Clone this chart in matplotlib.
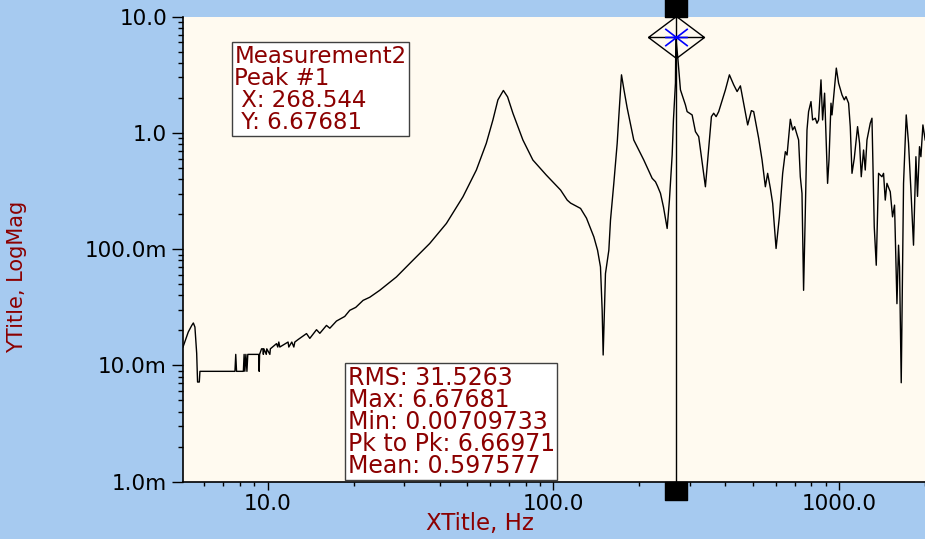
import matplotlib
matplotlib.use("Agg")
from matplotlib import pyplot as plt
from matplotlib import transforms
from matplotlib.path import Path
from matplotlib.ticker import NullFormatter

# spectrum (Hz, linear magnitude)
freq_hz = [
    5.06, 5.28, 5.43, 5.50, 5.57, 5.65, 5.69, 5.77, 5.80,
    7.69, 7.74, 7.79, 8.23, 8.28, 8.33, 8.40, 8.47, 8.53, 9.32, 9.35, 9.38, 9.53,
    9.63, 9.67, 9.71, 9.90, 9.94, 10.19, 10.23, 10.75, 10.86, 10.95, 11.04,
    11.80, 11.87, 12.16, 12.36, 12.46, 12.79, 13.69, 14.06, 14.84, 15.24, 16.08, 16.52, 17.43,
    18.63, 19.40, 20.36, 21.60, 22.79, 24.70, 28.25, 32.29, 36.94, 42.26, 48.30, 53.81,
    58.30, 61.49, 64.01, 66.9, 69.21, 72.24, 78.29, 84.84, 94.52,
    106.1, 111.9, 115.0, 124.6, 130.7, 138.7, 142.9, 146.3, 148.3, 149.5, 152.3, 156.5,
    158.6, 162.9, 167.4, 169.6, 173.3, 176.8, 181.4, 191.3, 207.4, 221.9, 227.9, 231.6,
    237.3, 243.1, 250.4, 255.0, 260.7, 263.4, 267.7, 268.544,
    273.2, 278.7, 290.1, 294.1, 306.2, 314.5, 322.9, 340.8, 357.7, 364.3, 371.5, 379.3,
    400.4, 413.5, 428.1, 440.0, 451.8, 463.9, 479.1, 493.6, 502.9, 523.5, 538.0, 552.5,
    562.8, 575.2, 586.0, 602.3, 618.5, 635.2, 649.0, 658.0, 675.6, 688.3, 699.4, 722.2,
    732.2, 742.2, 751.8, 762.1, 772.7, 782.7, 798.0, 808.4, 826.1, 837.5, 848.4, 865.0,
    876.3, 890.5, 912.2, 922.6, 937.6, 945.2, 978.6, 996.8,
    1024.5, 1043.5, 1058.0, 1080.4, 1095.2, 1110.5, 1131.1, 1161.5, 1180.4, 1196.6,
    1219.0, 1235.7, 1252.9, 1286.5, 1304.4, 1328.7, 1350.3, 1375.7, 1413.6, 1432.0,
    1451.9, 1471.8, 1511.6, 1539.7, 1564.7, 1595.3, 1615.9, 1629.0, 1651.3, 1682.4,
    1719.2, 1751.5, 1785.3, 1823.1, 1858.7, 1882.8, 1913.4, 1935.1, 1966.5, 2003.0,
]
mag = [
    0.0144, 0.0194, 0.0221, 0.0232, 0.0214, 0.0127, 0.0072, 0.0072, 0.0089,
    0.0089, 0.01245, 0.0089, 0.0089, 0.01245, 0.0089, 0.01245, 0.0089, 0.01245, 0.01245, 0.0089, 0.01245, 0.0139,
    0.0139, 0.01245, 0.0139, 0.01245, 0.0139, 0.01245, 0.0139, 0.0154, 0.0144, 0.0159, 0.0144,
    0.0159, 0.0144, 0.0159, 0.0144, 0.0159, 0.0167, 0.0188, 0.0171, 0.0203, 0.0189, 0.0221, 0.0209, 0.0241,
    0.0264, 0.0298, 0.0316, 0.0363, 0.0386, 0.0443, 0.0577, 0.0804, 0.1119, 0.1665, 0.2824, 0.4798,
    0.8151, 1.294, 1.925, 2.32, 2.043, 1.478, 0.8703, 0.5852, 0.4344,
    0.3226, 0.2645, 0.2492, 0.2243, 0.1850, 0.1276, 0.098, 0.0704, 0.0298, 0.0123, 0.0617, 0.098,
    0.1778, 0.3685, 0.8151, 1.382, 3.162, 2.348, 1.643, 0.870, 0.5852, 0.4070, 0.3803, 0.3493,
    0.3021, 0.2302, 0.1508, 0.2645, 0.646, 1.294, 2.682, 6.67681,
    4.259, 2.348, 1.743, 1.526, 1.429, 1.026, 0.929, 0.3444, 1.382, 1.478, 1.382, 1.526,
    2.348, 3.162, 2.593, 2.270, 2.542, 1.803, 1.172, 1.556, 1.526, 0.900, 0.5852, 0.3444,
    0.4494, 0.3337, 0.2477, 0.1014, 0.1898, 0.4494, 0.690, 0.646, 1.312, 1.061, 1.133, 0.870,
    0.4201, 0.3021, 0.0443, 0.2032, 1.061, 1.526, 1.861, 1.294, 1.339, 1.212, 1.294, 2.863,
    1.294, 2.199, 0.3685, 0.5852, 1.803, 1.429, 3.613, 2.682,
    2.126, 1.925, 2.055, 1.803, 1.133, 0.4494, 0.6051, 1.133, 0.815, 0.4201,
    0.7135, 0.4798, 0.870, 1.212, 1.339, 0.1557, 0.0728, 0.4494, 0.4201, 0.4494,
    0.2645, 0.3685, 0.3119, 0.1898, 0.2394, 0.0340, 0.1083, 0.0704, 0.0071, 0.3685,
    1.429, 0.815, 0.3226, 0.1083, 0.6247, 0.2847, 0.7619, 0.6247, 1.172, 0.870,
]

peak_hz = 268.544
peak_mag = 6.67681
stat_names = ["RMS", "Max", "Min", "Pk to Pk", "Mean"]
stat_values = ["31.5263", "6.67681", "0.00709733", "6.66971", "0.597577"]

xtick_vals = [10, 100, 1000]
xtick_labels = ["10.0", "100.0", "1000.0"]
ytick_vals = [1e-3, 1e-2, 1e-1, 1, 10]
ytick_labels = ["1.0m", "10.0m", "100.0m", "1.0", "10.0"]

plt.rcParams['font.family'] = ['DejaVu Sans']

blue = '#a6caf0'
cream = '#fffaf0'
maroon = '#8b0000'

fig = plt.figure(figsize=(9.25, 5.39), dpi=100, facecolor=blue)
ax = fig.add_axes([183/925, 57.3/539, 742/925, 465/539])
ax.set_facecolor(cream)
ax.set_xscale('log')
ax.set_yscale('log')
ax.set_xlim(5.06, 2000)
ax.set_ylim(1e-3, 10)

ax.plot(freq_hz, mag, color='black', lw=1)
ax.axvline(peak_hz, color='black', lw=1, zorder=3)

for s in ['top', 'right']:
    ax.spines[s].set_visible(False)
for s in ['left', 'bottom']:
    ax.spines[s].set_color('black')
    ax.spines[s].set_linewidth(1.2)

ax.set_xticks(xtick_vals, xtick_labels)
ax.set_yticks(ytick_vals, ytick_labels)
ax.xaxis.set_minor_formatter(NullFormatter())
ax.yaxis.set_minor_formatter(NullFormatter())
ax.tick_params(axis='both', which='both', direction='out', colors='black', width=1)
ax.tick_params(axis='x', which='major', length=6, pad=3, labelsize=15.5)
ax.tick_params(axis='x', which='minor', length=3)
ax.tick_params(axis='y', which='major', length=8, pad=3.5, labelsize=15.5)
ax.tick_params(axis='y', which='minor', length=3.6)

# peak cursor: diamond with star, plus black tabs on the frame
diamond = Path([(-28, 0), (0, 21), (28, 0), (0, -21), (-28, 0), (-28, 0), (28, 0)],
               [Path.MOVETO, Path.LINETO, Path.LINETO, Path.LINETO, Path.LINETO,
                Path.MOVETO, Path.LINETO])
star = Path([(-34, 0), (34, 0), (-34, -26), (34, 26), (-34, 26), (34, -26)],
            [Path.MOVETO, Path.LINETO] * 3)
tab = Path([(-11, -9), (11, -9), (11, 9), (-11, 9), (-11, -9)],
           [Path.MOVETO, Path.LINETO, Path.LINETO, Path.LINETO, Path.CLOSEPOLY])

ax.plot([peak_hz], [peak_mag], marker=diamond, ms=40.3, mfc='none', mec='black',
        mew=1, clip_on=False, zorder=4)
ax.plot([peak_hz], [peak_mag], marker=star, ms=16.3, mfc='none', mec='#0000ff',
        mew=1.2, clip_on=False, zorder=5)

trans = transforms.blended_transform_factory(ax.transData, ax.transAxes)
top_tab = transforms.offset_copy(trans, fig=fig, y=9, units='dots')
bot_tab = transforms.offset_copy(trans, fig=fig, y=-9, units='dots')
ax.plot([peak_hz], [1], marker=tab, ms=15.8, color='black', transform=top_tab,
        clip_on=False, zorder=6)
ax.plot([peak_hz], [0], marker=tab, ms=15.8, color='black', transform=bot_tab,
        clip_on=False, zorder=6)

peak_text = f"Measurement2\nPeak #1\n X: {peak_hz}\n Y: {peak_mag}"
ax.text(0.0692, 0.940, peak_text, transform=ax.transAxes, ha='left', va='top',
        fontsize=16.5, color=maroon, linespacing=0.95, zorder=7,
        bbox=dict(boxstyle='square,pad=0.1', fc='white', ec='#404040', lw=1))

stats_text = "\n".join(f"{n}: {v}" for n, v in zip(stat_names, stat_values))
ax.text(0.2218, 0.2497, stats_text, transform=ax.transAxes, ha='left', va='top',
        fontsize=17, color=maroon, linespacing=0.9, zorder=7,
        bbox=dict(boxstyle='square,pad=0.1', fc='white', ec='#404040', lw=1))

fig.text(0.519, 0.028, 'XTitle, Hz', ha='center', va='center', fontsize=16.5, color=maroon)
fig.text(0.0184, 0.4866, 'YTitle, LogMag', rotation=90, ha='center', va='center',
         fontsize=15, color=maroon)

fig.savefig('out.png', dpi=100, facecolor=blue)
